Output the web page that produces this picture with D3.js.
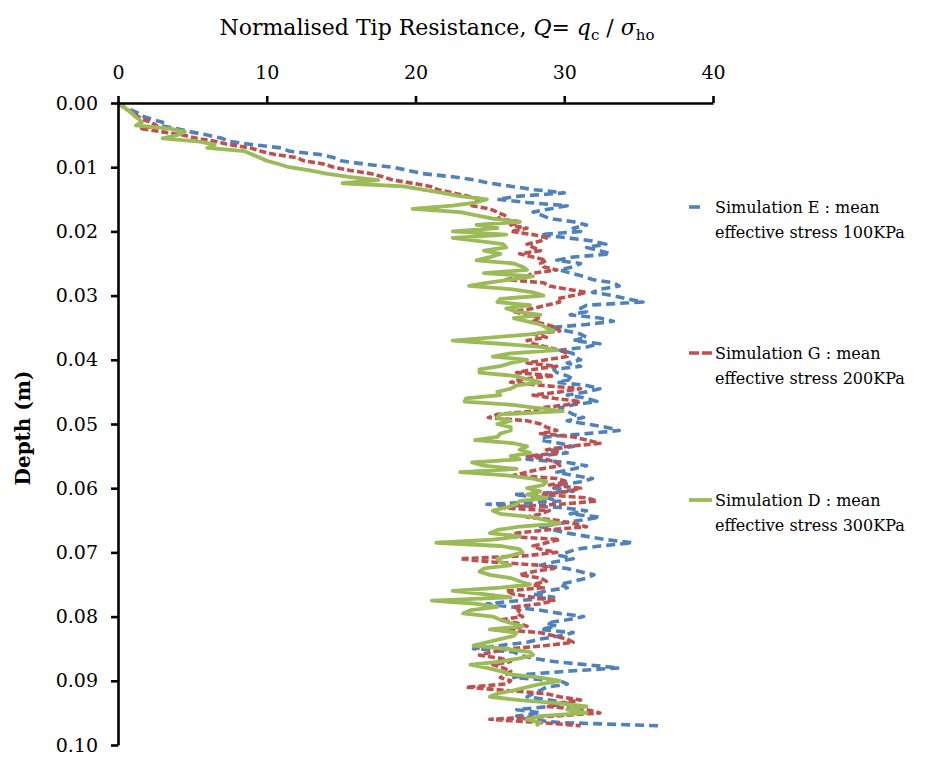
<!DOCTYPE html>
<html><head><meta charset="utf-8">
<script src="https://cdn.jsdelivr.net/npm/d3@7/dist/d3.min.js"></script>
<style>body{margin:0;background:#fff}svg{display:block}text{font-family:"DejaVu Serif","Liberation Serif",serif;fill:#000}</style>
</head><body>
<svg id="chart" width="926" height="760"></svg>
<script>
// Depth (m), sampled every 0.0005 m
const depth = [
0,0.0005,0.001,0.0015,0.002,0.0025,0.003,0.0035,0.004,0.0045,
0.005,0.0055,0.006,0.0065,0.007,0.0075,0.008,0.0085,0.009,0.0095,
0.01,0.0105,0.011,0.0115,0.012,0.0125,0.013,0.0135,0.014,0.0145,
0.015,0.0155,0.016,0.0165,0.017,0.0175,0.018,0.0185,0.019,0.0195,
0.02,0.0205,0.021,0.0215,0.022,0.0225,0.023,0.0235,0.024,0.0245,
0.025,0.0255,0.026,0.0265,0.027,0.0275,0.028,0.0285,0.029,0.0295,
0.03,0.0305,0.031,0.0315,0.032,0.0325,0.033,0.0335,0.034,0.0345,
0.035,0.0355,0.036,0.0365,0.037,0.0375,0.038,0.0385,0.039,0.0395,
0.04,0.0405,0.041,0.0415,0.042,0.0425,0.043,0.0435,0.044,0.0445,
0.045,0.0455,0.046,0.0465,0.047,0.0475,0.048,0.0485,0.049,0.0495,
0.05,0.0505,0.051,0.0515,0.052,0.0525,0.053,0.0535,0.054,0.0545,
0.055,0.0555,0.056,0.0565,0.057,0.0575,0.058,0.0585,0.059,0.0595,
0.06,0.0605,0.061,0.0615,0.062,0.0625,0.063,0.0635,0.064,0.0645,
0.065,0.0655,0.066,0.0665,0.067,0.0675,0.068,0.0685,0.069,0.0695,
0.07,0.0705,0.071,0.0715,0.072,0.0725,0.073,0.0735,0.074,0.0745,
0.075,0.0755,0.076,0.0765,0.077,0.0775,0.078,0.0785,0.079,0.0795,
0.08,0.0805,0.081,0.0815,0.082,0.0825,0.083,0.0835,0.084,0.0845,
0.085,0.0855,0.086,0.0865,0.087,0.0875,0.088,0.0885,0.089,0.0895,
0.09,0.0905,0.091,0.0915,0.092,0.0925,0.093,0.0935,0.094,0.0945,
0.095,0.0955,0.096,0.0965,0.097];

// Simulation E (100 kPa) – Q values
const simE = [
0,0.3,0.8,1.3,1.6,2.2,3.0,2.8,4.0,4.9,
6.0,7.0,7.5,9.1,11.0,11.5,13.5,14.5,15.0,16.5,
18.5,19.5,20.5,22.5,24.0,25.0,26.5,28.0,30.0,27.0,
25.5,27.5,30.2,29.0,27.9,28.5,29.0,30.6,
31.5,30.6,31.1,28.4,30.2,31.9,32.8,31.5,32.4,33.1,
30.6,29.5,31.1,30.6,29.7,30.4,31.3,31.9,33.3,33.7,
32.4,31.9,33.3,34.2,35.3,31.5,31.1,31.5,30.4,32.4,
33.3,31.5,29.0,30.2,31.1,31.5,30.6,32.4,31.5,29.7,
30.6,
30.6,31.1,30.2,31.1,29.3,29.5,30.2,30.6,29.5,31.5,
32.4,31.5,30.2,31.5,32.2,30.6,29.7,30.2,30.6,31.3,
30.2,31.5,32.8,33.7,31.5,28.8,28.4,29.7,30.6,29.0,
30.2,28.1,27.5,30.2,31.5,30.6,29.5,30.6,31.9,31.1,
29.7,
29.3,30.6,26.6,28.8,29.7,24.8,29.7,31.5,30.4,32.4,
31.1,29.7,28.4,29.3,30.2,31.5,32.8,34.6,32.4,30.8,
30.2,29.7,30.6,29.3,28.4,30.2,31.1,32.0,31.5,30.6,
29.7,30.2,28.8,27.9,29.3,27.0,24.8,26.4,28.4,
29.7,31.3,30.2,28.8,29.5,28.4,30.6,29.7,28.4,27.5,
25.7,23.9,26.6,27.0,27.9,29.3,31.5,33.7,30.2,27.5,
26.6,29.7,30.2,28.8,28.4,27.9,27.5,29.0,30.2,29.0,
26.8,28.4,26.8,27.5,29.7,36.3];

// Simulation G (200 kPa)
const simG = [
0,0.3,0.6,0.9,1.3,1.6,2.2,2.6,1.6,3.0,
4.4,5.3,6.6,7.5,8.9,9.6,10.5,12.0,12.5,13.8,
14.5,15.6,17.0,17.8,18.5,19.8,21.0,21.5,22.5,23.5,
24.5,24.0,23.8,25.0,25.5,26.0,25.5,27.0,
26.4,27.5,26.4,27.9,28.8,28.4,27.5,27.9,28.4,27.0,
27.9,28.8,28.4,28.6,29.5,27.9,27.5,26.1,28.6,29.0,
30.2,31.5,30.6,29.5,29.7,28.8,27.9,26.6,27.5,28.4,
27.9,28.8,29.5,29.7,27.9,28.8,27.5,27.9,28.8,29.7,
30.2,
30.2,28.8,27.5,29.5,27.9,26.8,29.3,27.2,26.4,28.6,
31.1,29.7,27.9,29.3,31.1,30.2,28.4,27.9,25.5,24.9,
27.5,28.4,28.8,29.5,28.4,30.6,31.5,32.4,30.2,28.8,
29.7,27.5,28.8,29.5,29.7,28.4,27.5,26.6,29.5,30.2,
29.0,
31.1,30.2,28.6,31.5,32.2,29.7,25.5,29.0,28.4,27.5,
29.5,30.6,31.5,28.8,26.8,26.1,29.7,28.8,27.9,28.4,
29.5,27.5,23.0,25.2,28.4,29.3,27.9,27.0,28.4,28.8,
27.9,28.6,26.1,26.6,27.9,29.3,28.4,26.6,27.0,
26.8,27.2,25.7,26.8,27.5,25.7,28.4,29.3,30.2,30.6,
28.8,26.4,25.2,24.3,25.7,26.4,25.2,25.9,26.4,26.1,
25.7,26.4,26.1,23.4,26.1,28.8,29.7,31.1,29.7,28.8,
31.5,32.4,29.3,25.0,28.4,31.1];

// Simulation D (300 kPa)
const simD = [
0,0.3,0.6,0.9,1.1,1.4,1.6,1.2,3.5,4.5,
4.0,3.0,5.5,6.5,6.0,8.5,9.0,9.5,10.0,10.8,
11.5,12.9,14.0,15.5,17.5,15.1,19.2,20.5,21.8,23.0,
24.8,24.0,22.5,19.8,23.0,24.1,25.2,27.0,
24.1,25.5,22.5,26.1,22.5,24.3,25.9,26.1,24.6,25.7,
25.0,24.1,26.6,27.2,27.5,24.6,27.9,26.4,24.8,23.6,
26.4,27.9,28.6,25.7,25.5,27.7,26.1,26.8,28.4,26.6,
27.5,28.4,28.8,29.3,27.9,25.2,22.5,25.7,28.4,29.5,
26.4,
25.2,27.5,26.4,25.7,24.3,24.3,26.6,27.5,28.4,26.8,
26.4,25.5,25.7,23.4,23.3,26.4,28.1,29.9,25.7,25.5,
26.4,25.5,26.4,26.4,25.7,25.5,24.0,26.6,27.5,27.0,
27.7,26.4,27.0,23.8,24.6,26.8,23.0,26.1,27.9,28.8,
28.6,
27.5,28.4,27.5,28.8,27.0,26.8,26.1,25.2,25.7,27.9,
28.8,29.7,27.0,25.5,25.0,27.0,25.2,21.4,25.7,27.0,
27.2,26.4,25.5,25.7,26.4,24.6,24.3,25.0,26.4,27.0,
27.7,25.7,22.5,24.6,26.4,21.1,24.1,25.5,23.7,
23.2,25.2,25.7,26.4,27.2,25.0,26.8,26.6,25.7,24.8,
23.9,25.9,27.7,27.9,27.0,25.7,23.7,24.8,25.7,26.4,
28.4,29.7,28.4,27.5,26.6,25.5,25.0,27.0,29.7,31.5,
30.2,31.5,28.4,27.5,28.4,28.1];

const xTicks = [0, 10, 20, 30, 40];
const yTicks = [0, 0.01, 0.02, 0.03, 0.04, 0.05, 0.06, 0.07, 0.08, 0.09, 0.10];
const seriesNames = ["Simulation E", "Simulation G", "Simulation D"];
const legendLine1 = ["Simulation E : mean", "Simulation G : mean", "Simulation D : mean"];
const legendLine2 = ["effective stress 100KPa", "effective stress 200KPa", "effective stress 300KPa"];

const svg = d3.select("#chart");
svg.append("rect").attr("width", 926).attr("height", 760).attr("fill", "#fff");

const x = d3.scaleLinear().domain([0, 40]).range([118, 713]);
const y = d3.scaleLinear().domain([0, 0.10]).range([103, 745]);

const series = [
  {name: seriesNames[0], values: simE, color: "#4F81BD", dash: "9,5", width: 3.6},
  {name: seriesNames[1], values: simG, color: "#C0504D", dash: "7,3", width: 3.6},
  {name: seriesNames[2], values: simD, color: "#9BBB59", dash: null, width: 3.8}
];

const line = d3.line().x(d => x(d[1])).y(d => y(d[0]));

const plot = svg.append("g");
series.forEach(s => {
  plot.append("path")
    .datum(depth.map((d, i) => [d, s.values[i]]))
    .attr("fill", "none")
    .attr("stroke", s.color)
    .attr("stroke-width", s.width)
    .attr("stroke-linejoin", "round")
    .attr("stroke-dasharray", s.dash)
    .attr("d", line);
});

// axes
const xAxis = svg.append("g").attr("transform", "translate(0,103)")
  .call(d3.axisTop(x).tickValues(xTicks).tickSize(7).tickSizeOuter(0).tickPadding(17).tickFormat(d3.format("d")));
const yAxis = svg.append("g").attr("transform", "translate(118,0)")
  .call(d3.axisLeft(y).tickValues(yTicks).tickSize(7).tickSizeOuter(0).tickPadding(13).tickFormat(d3.format(".2f")));
[xAxis, yAxis].forEach(a => {
  a.select(".domain").attr("stroke", "#000").attr("stroke-width", 2.6);
  a.selectAll(".tick line").attr("stroke", "#000").attr("stroke-width", 2.6);
  a.selectAll(".tick text").attr("font-family", "DejaVu Serif").attr("font-size", 19).attr("fill", "#000");
});

// title
const title = svg.append("text").attr("x", 437).attr("y", 35).attr("text-anchor", "middle")
  .attr("font-size", 22);
title.append("tspan").text("Normalised Tip Resistance, ");
title.append("tspan").attr("font-style", "italic").text("Q");
title.append("tspan").text("= ");
title.append("tspan").attr("font-style", "italic").text("q");
title.append("tspan").attr("font-size", 15).attr("dy", 5).text("c");
title.append("tspan").attr("dy", -5).text(" / ");
title.append("tspan").attr("font-style", "italic").text("σ");
title.append("tspan").attr("font-size", 15).attr("dy", 5).text("ho");

// y label
svg.append("text").attr("transform", "translate(30,428) rotate(-90)")
  .attr("text-anchor", "middle").attr("font-size", 20).attr("font-weight", "bold").text("Depth (m)");

// legend
const legendY = [207, 353, 500];
series.forEach((s, i) => {
  const g = svg.append("g").attr("transform", `translate(0,${legendY[i]})`);
  if (i === 0) {
    g.append("line").attr("x1", 689).attr("x2", 700).attr("y1", 0).attr("y2", 0)
      .attr("stroke", s.color).attr("stroke-width", 3.6);
  } else if (i === 1) {
    g.append("line").attr("x1", 689).attr("x2", 712).attr("y1", 0).attr("y2", 0)
      .attr("stroke", s.color).attr("stroke-width", 3.6).attr("stroke-dasharray", "10,3");
  } else {
    g.append("line").attr("x1", 689).attr("x2", 712).attr("y1", 0).attr("y2", 0)
      .attr("stroke", s.color).attr("stroke-width", 3.8);
  }
  g.append("text").attr("x", 715).attr("y", 6).attr("font-size", 16).text(legendLine1[i]);
  g.append("text").attr("x", 715).attr("y", 31).attr("font-size", 16).text(legendLine2[i]);
});
</script>
</body></html>
